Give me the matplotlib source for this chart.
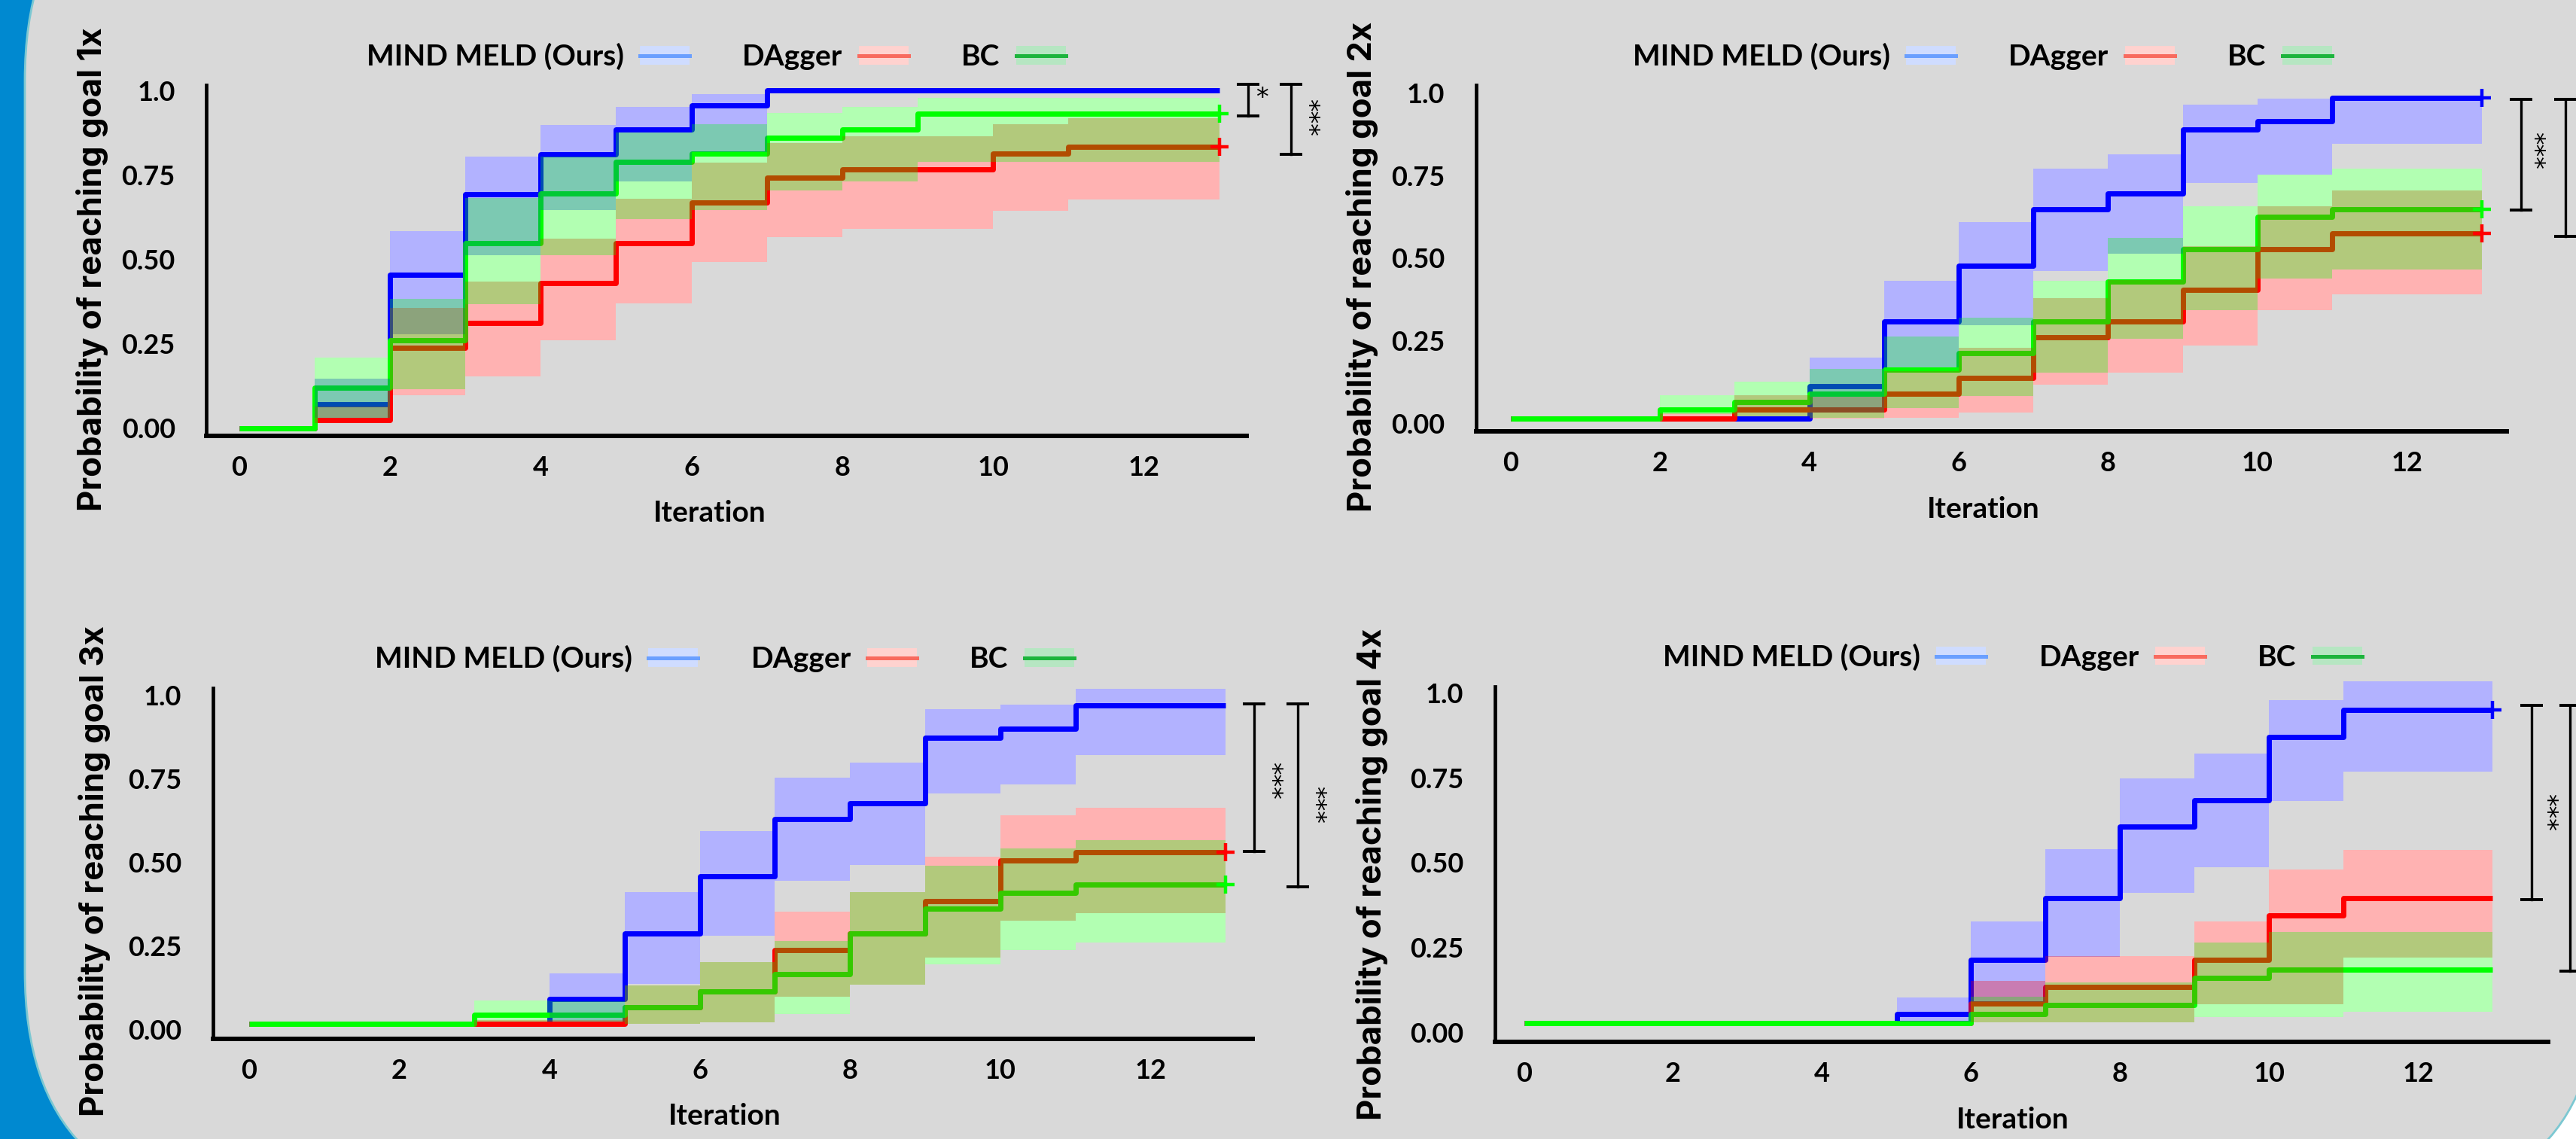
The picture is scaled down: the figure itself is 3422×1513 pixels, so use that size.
import numpy as np
import matplotlib
matplotlib.use("Agg")
import matplotlib.pyplot as plt
from matplotlib.patches import FancyBboxPatch, Rectangle, Patch
from matplotlib.lines import Line2D
from matplotlib.transforms import IdentityTransform
from matplotlib.legend_handler import HandlerTuple
from matplotlib.font_manager import FontProperties

# ---------------- data ----------------
iteration_edges = [0, 1, 2, 3, 4, 5, 6, 7, 8, 9, 10, 11, 12, 13]
series_names = ["MIND MELD (Ours)", "DAgger", "BC"]
x_ticks = [0, 2, 4, 6, 8, 10, 12]
y_ticks = [0.0, 0.25, 0.5, 0.75, 1.0]
y_tick_labels = ["0.00", "0.25", "0.50", "0.75", "1.0"]
goal_labels = ["Probability of reaching goal 1x", "Probability of reaching goal 2x",
               "Probability of reaching goal 3x", "Probability of reaching goal 4x"]

# goal 1x (value on each interval [k, k+1))
mm_1    = [0, 0.071, 0.454, 0.692, 0.811, 0.885, 0.955, 1.0, 1.0, 1.0, 1.0, 1.0, 1.0]
mm_lo_1 = [0, 0.030, 0.279, 0.513, 0.646, 0.730, 0.818, 1.0, 1.0, 1.0, 1.0, 1.0, 1.0]
mm_hi_1 = [0, 0.146, 0.584, 0.803, 0.897, 0.952, 0.989, 1.0, 1.0, 1.0, 1.0, 1.0, 1.0]
da_1    = [0, 0.023, 0.238, 0.311, 0.429, 0.548, 0.668, 0.741, 0.766, 0.766, 0.812, 0.834, 0.834]
da_lo_1 = [0, 0.016, 0.097, 0.153, 0.259, 0.369, 0.491, 0.565, 0.591, 0.591, 0.643, 0.677, 0.677]
da_hi_1 = [0, 0.064, 0.357, 0.435, 0.560, 0.678, 0.785, 0.844, 0.864, 0.864, 0.900, 0.917, 0.917]
bc_1    = [0, 0.120, 0.261, 0.548, 0.694, 0.788, 0.812, 0.860, 0.885, 0.932, 0.932, 0.932, 0.932]
bc_lo_1 = [0, 0.030, 0.116, 0.368, 0.513, 0.620, 0.646, 0.703, 0.730, 0.788, 0.788, 0.788, 0.788]
bc_hi_1 = [0, 0.209, 0.383, 0.681, 0.803, 0.875, 0.900, 0.933, 0.952, 0.978, 0.978, 0.978, 0.978]

# goal 2x
mm_2    = [0.014, 0.014, 0.014, 0.014, 0.111, 0.307, 0.477, 0.647, 0.695, 0.890, 0.915, 0.985, 0.985]
mm_lo_2 = [0.014, 0.014, 0.014, 0.014, 0.031, 0.168, 0.297, 0.461, 0.514, 0.727, 0.753, 0.847, 0.847]
mm_hi_2 = [0.014, 0.014, 0.014, 0.014, 0.198, 0.432, 0.609, 0.771, 0.814, 0.964, 0.984, 0.985, 0.985]
da_2    = [0.014, 0.014, 0.014, 0.040, 0.040, 0.088, 0.136, 0.259, 0.307, 0.404, 0.528, 0.575, 0.575]
da_lo_2 = [0.014, 0.014, 0.005, 0.020, 0.014, 0.016, 0.031, 0.117, 0.153, 0.234, 0.343, 0.389, 0.389]
da_hi_2 = [0.014, 0.014, 0.030, 0.084, 0.080, 0.157, 0.229, 0.379, 0.434, 0.537, 0.658, 0.704, 0.704]
bc_2    = [0.014, 0.014, 0.040, 0.065, 0.088, 0.163, 0.211, 0.307, 0.429, 0.528, 0.624, 0.647, 0.647]
bc_lo_2 = [0.014, 0.014, 0.027, 0.020, 0.016, 0.046, 0.081, 0.153, 0.255, 0.343, 0.439, 0.465, 0.465]
bc_hi_2 = [0.014, 0.014, 0.084, 0.126, 0.164, 0.263, 0.320, 0.430, 0.562, 0.658, 0.753, 0.771, 0.771]

# goal 3x
mm_3    = [0.017, 0.017, 0.017, 0.017, 0.092, 0.287, 0.459, 0.630, 0.677, 0.873, 0.899, 0.969, 0.969]
mm_lo_3 = [0.017, 0.017, 0.017, 0.017, 0.024, 0.137, 0.280, 0.445, 0.493, 0.706, 0.733, 0.822, 0.822]
mm_hi_3 = [0.017, 0.017, 0.017, 0.017, 0.168, 0.411, 0.594, 0.754, 0.799, 0.959, 0.972, 1.018, 1.018]
da_3    = [0.017, 0.017, 0.017, 0.017, 0.017, 0.066, 0.114, 0.238, 0.287, 0.384, 0.506, 0.531, 0.531]
da_lo_3 = [0.017, 0.017, 0.017, 0.009, 0.009, 0.017, 0.021, 0.099, 0.135, 0.216, 0.325, 0.348, 0.348]
da_hi_3 = [0.017, 0.017, 0.017, 0.028, 0.028, 0.131, 0.201, 0.352, 0.411, 0.518, 0.640, 0.664, 0.664]
bc_3    = [0.017, 0.017, 0.017, 0.044, 0.044, 0.066, 0.114, 0.165, 0.287, 0.361, 0.409, 0.433, 0.433]
bc_lo_3 = [0.017, 0.017, 0.017, 0.024, 0.024, 0.017, 0.021, 0.046, 0.135, 0.196, 0.238, 0.261, 0.261]
bc_hi_3 = [0.017, 0.017, 0.017, 0.087, 0.085, 0.131, 0.201, 0.265, 0.411, 0.491, 0.541, 0.567, 0.567]

# goal 4x
mm_4    = [0.026, 0.026, 0.026, 0.026, 0.026, 0.054, 0.214, 0.396, 0.607, 0.685, 0.871, 0.950, 0.950]
mm_lo_4 = [0.026, 0.026, 0.026, 0.026, 0.026, 0.032, 0.088, 0.223, 0.411, 0.486, 0.682, 0.769, 0.769]
mm_hi_4 = [0.026, 0.026, 0.026, 0.026, 0.026, 0.103, 0.326, 0.539, 0.749, 0.822, 0.980, 1.035, 1.035]
da_4    = [0.026, 0.026, 0.026, 0.026, 0.026, 0.026, 0.084, 0.133, 0.133, 0.214, 0.344, 0.396, 0.396]
da_lo_4 = [0.026, 0.026, 0.026, 0.026, 0.026, 0.026, 0.029, 0.029, 0.029, 0.082, 0.082, 0.221, 0.221]
da_hi_4 = [0.026, 0.026, 0.026, 0.026, 0.026, 0.026, 0.152, 0.225, 0.225, 0.327, 0.480, 0.538, 0.538]
bc_4    = [0.026, 0.026, 0.026, 0.026, 0.026, 0.026, 0.054, 0.081, 0.081, 0.160, 0.184, 0.184, 0.184]
bc_lo_4 = [0.026, 0.026, 0.026, 0.026, 0.026, 0.026, 0.029, 0.029, 0.029, 0.045, 0.045, 0.061, 0.061]
bc_hi_4 = [0.026, 0.026, 0.026, 0.026, 0.026, 0.026, 0.105, 0.147, 0.147, 0.264, 0.296, 0.296, 0.296]

# which series show a "+" censor mark at the last iteration (MM, DAgger, BC)
censor_1 = [False, True, True]
censor_2 = [True, True, True]
censor_3 = [False, True, True]
censor_4 = [True, False, False]

# significance brackets: (top value, bottom value, stars)
sig_1 = [(1.018, 0.924, "*"), (1.018, 0.810, "***")]
sig_2 = [(0.981, 0.645, "***"), (0.981, 0.566, "***")]
sig_3 = [(0.975, 0.532, "***"), (0.975, 0.427, "***")]
sig_4 = [(0.965, 0.392, "***"), (0.965, 0.181, "***")]

panels = [
    (mm_1, mm_lo_1, mm_hi_1, da_1, da_lo_1, da_hi_1, bc_1, bc_lo_1, bc_hi_1, censor_1, sig_1),
    (mm_2, mm_lo_2, mm_hi_2, da_2, da_lo_2, da_hi_2, bc_2, bc_lo_2, bc_hi_2, censor_2, sig_2),
    (mm_3, mm_lo_3, mm_hi_3, da_3, da_lo_3, da_hi_3, bc_3, bc_lo_3, bc_hi_3, censor_3, sig_3),
    (mm_4, mm_lo_4, mm_hi_4, da_4, da_lo_4, da_hi_4, bc_4, bc_lo_4, bc_hi_4, censor_4, sig_4),
]

# ---------------- style / layout ----------------
W, H, DPI = 3422, 1513, 100
line_colors = ["#0000ff", "#ff0000", "#00ff00"]
leg_line_colors = ["#6a9fff", "#f86a5e", "#1cb43c"]
leg_patch_colors = ["#cfdcff", "#ffd2cf", "#b6e6c2"]

layout = [
    dict(rect=[0.0802, 0.6173, 0.4037, 0.3080], xlim=(-0.43, 13.36), ylim=(-0.023, 1.0156),
         ylab=(-0.110, 0.476), xlab=(0.484, -0.219), leg=(0.490, 1.0815),
         bx=[13.38, 13.95], sx=[13.56, 14.16], sy=[0.976, 0.921]),
    dict(rect=[0.5731, 0.6213, 0.4001, 0.3040], xlim=(-0.46, 13.34), ylim=(-0.025, 1.024),
         ylab=(-0.111, 0.476), xlab=(0.492, -0.224), leg=(0.491, 1.083),
         bx=[13.53, 14.12], sx=[13.69, 14.34], sy=[0.826, 0.79]),
    dict(rect=[0.0827, 0.0882, 0.4036, 0.3079], xlim=(-0.479, 13.36), ylim=(-0.027, 1.022),
         ylab=(-0.1137, 0.477), xlab=(0.492, -0.222), leg=(0.492, 1.083),
         bx=[13.38, 13.96], sx=[13.59, 14.18], sy=[0.745, 0.672]),
    dict(rect=[0.5804, 0.0855, 0.4087, 0.3118], xlim=(-0.388, 13.74), ylim=(-0.028, 1.02),
         ylab=(-0.117, 0.472), xlab=(0.4915, -0.2205), leg=(0.4915, 1.083),
         bx=[13.52, 14.04], sx=[13.71, 14.25], sy=[0.648, 0.57]),
]

tick_font = FontProperties(family=["Lato", "DejaVu Sans"], weight="bold", size=26)
leg_font = FontProperties(family=["Lato", "DejaVu Sans"], weight="bold", size=28)
ylab_font = FontProperties(family=["Inter", "DejaVu Sans"], weight="bold", size=31.5)

fig = plt.figure(figsize=(W / DPI, H / DPI), dpi=DPI, facecolor="white")

# poster decor: blue band on the left, grey rounded panel
fig.add_artist(Rectangle((0, 0), 700, H, transform=IdentityTransform(),
                         facecolor="#0089d0", edgecolor="none", zorder=-10))
fig.add_artist(FancyBboxPatch((33, -87), 3421, 1803,
                              boxstyle="round,pad=0,rounding_size=310",
                              transform=IdentityTransform(), facecolor="#d9d9d9",
                              edgecolor="#7cc8d2", linewidth=2, zorder=-9))

t = np.array(iteration_edges, dtype=float)


def ext(v):
    return np.array(list(v) + [v[-1]], dtype=float)


for p, (data, lay, ylabel) in enumerate(zip(panels, layout, goal_labels)):
    mm, mm_lo, mm_hi, da, da_lo, da_hi, bc, bc_lo, bc_hi, censor, sig = data
    ax = fig.add_axes(lay["rect"])
    ax.set_facecolor("none")
    lines = [mm, da, bc]
    bands = [(mm_lo, mm_hi), (da_lo, da_hi), (bc_lo, bc_hi)]

    # white underlay so translucent bands composite as on white paper
    for lo, hi in bands:
        ax.fill_between(t, ext(lo), ext(hi), step="post", facecolor="white",
                        linewidth=0, zorder=1, clip_on=False)
    for v, c in zip(lines, line_colors):
        ax.step(t, ext(v), where="post", color=c, lw=5, zorder=2,
                solid_capstyle="butt", clip_on=False)
    for (lo, hi), c in zip(bands, line_colors):
        ax.fill_between(t, ext(lo), ext(hi), step="post", facecolor=c, alpha=0.3,
                        linewidth=0, zorder=3, clip_on=False)
    for v, c, flag in zip(lines, line_colors, censor):
        if flag:
            ax.plot([t[-1]], [v[-1]], marker="+", ms=17, mew=3.2, color=c,
                    zorder=4, clip_on=False)

    ax.set_xlim(*lay["xlim"])
    ax.set_ylim(*lay["ylim"])
    for s in ["top", "right"]:
        ax.spines[s].set_visible(False)
    ax.spines["left"].set_linewidth(3.4)
    ax.spines["bottom"].set_linewidth(4.3)
    ax.set_xticks(x_ticks)
    ax.set_xticklabels([str(v) for v in x_ticks], fontproperties=tick_font)
    ax.set_yticks(y_ticks)
    ax.set_yticklabels(y_tick_labels, fontproperties=tick_font)
    ax.tick_params(axis="x", length=0, pad=19)
    ax.tick_params(axis="y", length=0, pad=30)

    ax.set_xlabel("Iteration", fontproperties=leg_font)
    ax.xaxis.set_label_coords(*lay["xlab"])
    ax.xaxis.label.set_va("center")
    ax.set_ylabel(ylabel, fontproperties=ylab_font)
    ax.yaxis.set_label_coords(*lay["ylab"])
    ax.yaxis.label.set_va("center")

    handles = [(Patch(facecolor=pc, edgecolor="none"), Line2D([], [], color=lc, lw=3.6))
               for pc, lc in zip(leg_patch_colors, leg_line_colors)]
    ax.legend(handles, series_names, handler_map={tuple: HandlerTuple(ndivide=1)},
              loc="center", bbox_to_anchor=lay["leg"], ncol=3, frameon=False,
              markerfirst=False, handlelength=1.7, handleheight=0.6,
              handletextpad=0.55, columnspacing=1.8, prop=leg_font, borderaxespad=0)

    for (ytop, ybot, stars), bx, sx, sy in zip(sig, lay["bx"], lay["sx"], lay["sy"]):
        ax.plot([bx, bx], [ytop, ybot], color="black", lw=2.4, clip_on=False, zorder=5)
        for yy in (ytop, ybot):
            ax.plot([bx - 0.15, bx + 0.15], [yy, yy], color="black", lw=2.8,
                    clip_on=False, zorder=5, solid_capstyle="butt")
        ax.text(sx, sy, stars, rotation=(-90 if len(stars) > 1 else 0), ha="center",
                va="center", fontsize=24, family="DejaVu Sans", clip_on=False, zorder=5)

fig.savefig("out.png", dpi=DPI, facecolor=fig.get_facecolor())
